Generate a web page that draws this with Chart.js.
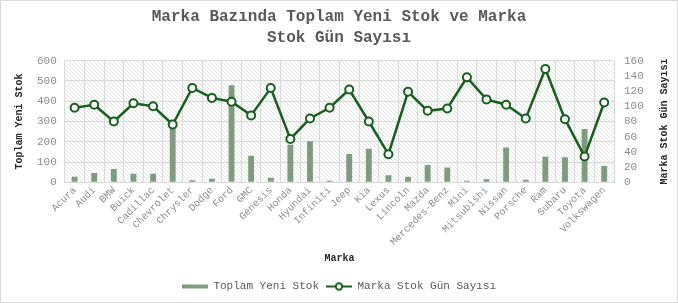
<!DOCTYPE html>
<html>
<head>
<meta charset="utf-8">
<script src="https://cdn.jsdelivr.net/npm/chart.js@4"></script>
<style>
  html, body { margin: 0; padding: 0; background: #fff; }
  #wrap { width: 676px; height: 301px; border: 1px solid #d9d9d9; }
</style>
</head>
<body>
<div id="wrap"><canvas id="myChart" width="676" height="301"></canvas></div>
<script>
var brands = ["Acura", "Audi", "BMW", "Buick", "Cadillac", "Chevrolet", "Chrysler", "Dodge", "Ford", "GMC",
  "Genesis", "Honda", "Hyundai", "Infiniti", "Jeep", "Kia", "Lexus", "Lincoln", "Mazda", "Mercedes-Benz",
  "Mini", "Mitsubishi", "Nissan", "Porsche", "Ram", "Subaru", "Toyota", "Volkswagen"];
var totalNewStock = [28, 46, 66, 43, 43, 290, 10, 18, 479, 131,
  23, 185, 202, 8, 140, 165, 35, 28, 86, 73,
  8, 15, 172, 13, 126, 124, 263, 81];
var stockDays = [98, 102, 80, 104, 100, 76, 124, 111, 106, 88,
  124, 57, 84, 98, 122, 80, 37, 119, 94, 97,
  138, 109, 102, 84, 149, 83, 34, 105];
var leftTicks = [0, 100, 200, 300, 400, 500, 600];
var rightTicks = [0, 20, 40, 60, 80, 100, 120, 140, 160];

var FONT = "'Liberation Mono', 'Courier New', monospace";
var BAR_COLOR = "#7f9c7f";
var LINE_COLOR = "#14601c";
var RIGHT_TITLE = "Marka Stok Gün Sayısı";

// hatch pattern for plot background
function makeHatch() {
  var c = document.createElement("canvas");
  c.width = 4; c.height = 4;
  var g = c.getContext("2d");
  g.fillStyle = "#ffffff";
  g.fillRect(0, 0, 4, 4);
  g.strokeStyle = "#e3e3e3";
  g.lineWidth = 1;
  g.beginPath();
  g.moveTo(0, 0); g.lineTo(4, 4);
  g.moveTo(-1, 3); g.lineTo(1, 5);
  g.moveTo(3, -1); g.lineTo(5, 1);
  g.stroke();
  return c;
}

function legendIcon(type) {
  var c = document.createElement("canvas");
  c.width = 26; c.height = 10;
  var g = c.getContext("2d");
  if (type == "bar") {
    g.fillStyle = BAR_COLOR;
    g.fillRect(0, 3, 26, 4);
  } else {
    g.strokeStyle = LINE_COLOR;
    g.lineWidth = 2;
    g.beginPath(); g.moveTo(0, 5); g.lineTo(26, 5); g.stroke();
    g.fillStyle = "#fff";
    g.beginPath(); g.arc(13, 5, 3.2, 0, Math.PI * 2); g.fill(); g.stroke();
  }
  return c;
}

var hatchBg = {
  id: "hatchBg",
  beforeDraw: function (chart) {
    var a = chart.chartArea, ctx = chart.ctx;
    ctx.save();
    ctx.fillStyle = ctx.createPattern(makeHatch(), "repeat");
    ctx.fillRect(a.left, a.top, a.right - a.left, a.bottom - a.top);
    ctx.restore();
  }
};

// right axis title reads bottom-to-top like the left one
var rightTitle = {
  id: "rightTitle",
  afterDraw: function (chart) {
    var a = chart.chartArea, ctx = chart.ctx;
    ctx.save();
    ctx.translate(663, (a.top + a.bottom) / 2);
    ctx.rotate(-Math.PI / 2);
    ctx.font = "bold 10px " + FONT;
    ctx.fillStyle = "#262626";
    ctx.textAlign = "center";
    ctx.textBaseline = "middle";
    ctx.fillText(RIGHT_TITLE, 0, 0);
    ctx.restore();
  }
};

var data = {
  labels: brands,
  datasets: [
    {
      type: "bar",
      label: "Toplam Yeni Stok",
      data: totalNewStock,
      yAxisID: "y",
      backgroundColor: BAR_COLOR,
      barPercentage: 0.3,
      categoryPercentage: 1,
      order: 2
    },
    {
      type: "line",
      label: "Marka Stok Gün Sayısı",
      data: stockDays,
      yAxisID: "y1",
      borderColor: LINE_COLOR,
      borderWidth: 2.5,
      pointRadius: 4,
      pointBorderWidth: 2,
      pointBackgroundColor: "#ffffff",
      pointBorderColor: LINE_COLOR,
      tension: 0,
      order: 1
    }
  ]
};

var config = {
  data: data,
  plugins: [hatchBg, rightTitle],
  options: {
    responsive: false,
    animation: false,
    layout: { padding: { left: 8, right: 8, top: 0, bottom: 0 } },
    scales: {
      x: {
        grid: { color: "#d9d9d9", offset: true, drawTicks: false },
        border: { color: "#d9d9d9" },
        ticks: { color: "#8c8c8c", font: { family: FONT, size: 10 }, maxRotation: 45, minRotation: 45, autoSkip: false, padding: 2 },
        title: { display: true, text: "Marka", color: "#262626", font: { family: FONT, size: 10, weight: "bold" }, padding: { top: 2, bottom: 10 } }
      },
      y: {
        position: "left",
        min: 0, max: 600,
        afterBuildTicks: function (axis) { axis.ticks = leftTicks.map(function (v) { return { value: v }; }); },
        grid: { color: "#d9d9d9", drawTicks: false },
        border: { display: false },
        ticks: { color: "#8c8c8c", font: { family: FONT, size: 11 }, padding: 8 },
        title: { display: true, text: "Toplam Yeni Stok", color: "#262626", font: { family: FONT, size: 10, weight: "bold" }, padding: 4 }
      },
      y1: {
        position: "right",
        min: 0, max: 160,
        afterBuildTicks: function (axis) { axis.ticks = rightTicks.map(function (v) { return { value: v }; }); },
        afterFit: function (axis) { axis.width = 55; },
        grid: { drawOnChartArea: false, drawTicks: false },
        border: { display: false },
        ticks: { color: "#8c8c8c", font: { family: FONT, size: 11 }, padding: 10, autoSkip: false },
        title: { display: false }
      }
    },
    plugins: {
      title: {
        display: true,
        text: ["Marka Bazında Toplam Yeni Stok ve Marka", "Stok Gün Sayısı"],
        color: "#595959",
        font: { family: FONT, size: 16, weight: "bold", lineHeight: 1.3 },
        padding: { top: 6, bottom: 12 }
      },
      legend: {
        position: "bottom",
        labels: {
          color: "#595959",
          font: { family: FONT, size: 11 },
          usePointStyle: true,
          pointStyleWidth: 26,
          padding: 7,
          generateLabels: function (chart) {
            return chart.data.datasets.map(function (ds, i) {
              return {
                text: ds.label,
                datasetIndex: i,
                pointStyle: legendIcon(ds.type),
                fontColor: "#595959",
                hidden: false
              };
            });
          }
        }
      },
      tooltip: { enabled: false }
    }
  }
};

var ctx = document.getElementById("myChart").getContext("2d");
var myChart = new Chart(ctx, config);
</script>
</body>
</html>
